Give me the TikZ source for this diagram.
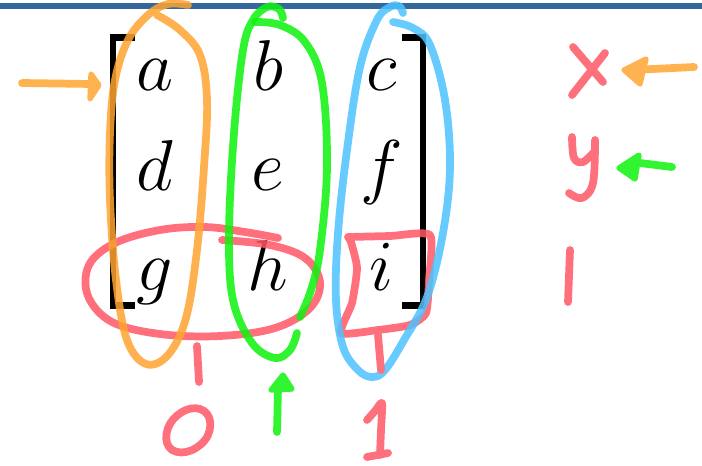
\documentclass[tikz,border=0pt]{standalone}
\usepackage{fix-cm}
\definecolor{obsorange}{RGB}{255,178,80}
\definecolor{obsred}{RGB}{255,112,125}
\definecolor{obsgreen}{RGB}{50,245,50}
\definecolor{obsblue}{RGB}{104,204,255}
\definecolor{baseorange}{RGB}{255,164,49}
\definecolor{basered}{RGB}{255,87,102}
\definecolor{basegreen}{RGB}{14,243,14}
\definecolor{baseblue}{RGB}{77,195,255}
\definecolor{barblue}{RGB}{52,104,156}
\tikzset{
  pen/.style={line width=5.8pt, line cap=round, line join=round},
  loop/.style={pen, draw opacity=0.85},
  head/.style={line width=4pt, line join=round, line cap=round},
  letter/.style={anchor=base, inner sep=0pt, font=\fontsize{54}{62}\selectfont},
  bracket/.style={line width=4.6pt, line cap=butt, line join=miter}
}
\begin{document}
\begin{tikzpicture}[x=0.75pt,y=-0.75pt]
\useasboundingbox (0,0) rectangle (702,465);
\fill[white] (0,0) rectangle (702,465);
\fill[barblue] (0,3) rectangle (702,9);
% matrix
\node[letter] (a) at (155,90) {$a$};
\node[letter] (b) at (268,90) {$b$};
\node[letter] (c) at (382,90) {$c$};
\node[letter] (d) at (155,190) {$d$};
\node[letter] (e) at (268,190) {$e$};
\node[letter] (f) at (382,190) {$f$};
\node[letter] (g) at (155,290) {$g$};
\node[letter] (h) at (268,290) {$h$};
\node[letter] (i) at (382,290) {$i$};
\draw[bracket] (135,37.5) -- (113,37.5) -- (113,305.5) -- (135,305.5);
\draw[bracket] (402,37.5) -- (423,37.5) -- (423,305.5) -- (402,305.5);
% red ellipse and box
\draw[loop, basered] plot[smooth, tension=0.6] coordinates {(278,238) (245,232) (205,227) (160,230) (115,243) (89,265) (88,296) (112,322) (160,334) (220,336) (275,328) (310,308) (320,282) (305,258) (270,245) (222,240)};
\draw[loop, basered] plot[smooth, tension=0.35] coordinates {(348,237) (390,236) (430,235) (429,280) (426,313) (410,325) (378,330) (341,333) (352,303) (357,268) (351,242) (348,237)};
% orange loop
\draw[loop, baseorange] plot[smooth, tension=0.6] coordinates {(188,5) (168,4) (148,15) (128,40) (115,80) (110,133) (110,200) (116,280) (127,340) (146,364) (168,355) (186,318) (197,250) (204,167) (207,100) (200,55) (180,30) (157,15)};
% green loop
\draw[loop, basegreen] plot[smooth, tension=0.6] coordinates {(283,18) (279,9) (267,7) (253,20) (243,50) (234,133) (229,233) (233,300) (252,343) (275,358) (290,350) (297,333)};
\draw[loop, basegreen] plot[smooth, tension=0.6] coordinates {(255,22) (280,25) (305,42) (322,83) (327,167) (320,250) (311,290) (300,317)};
% blue loop
\draw[loop, baseblue] plot[smooth, tension=0.6] coordinates {(403,13) (399,6) (390,7) (377,20) (360,67) (347,150) (338,233) (336,300) (343,347) (358,370) (372,377) (385,370) (404,340) (427,297) (443,233) (450,167) (445,100) (430,45) (413,28) (393,22)};
% ticks under matrix
\draw[pen, obsred] (197,346) -- (199,382);
\draw[pen, obsred] (378,335) -- (381,370);
% 0 and 1 below
\draw[pen, obsred] plot[smooth cycle, tension=0.7] coordinates {(200,409) (210,421) (205,440) (186,452) (169,447) (168,428) (182,412)};
\draw[pen, obsred] plot[smooth, tension=0.4] coordinates {(367,420) (375,411) (382,403) (381,430) (380,455)};
\draw[pen, obsred] (367,457) -- (388,453);
% green up arrow
\draw[pen, obsgreen] (277,432) -- (278,388);
\filldraw[head, obsgreen] (283,375) -- (292,389) -- (271,390) -- cycle;
% left orange arrow
\draw[pen, obsorange] (22,83) -- (92,84);
\filldraw[head, obsorange] (99,85) -- (91,74) -- (90,99) -- cycle;
% right side labels
\draw[pen, obsred] (573,47) -- (603,82);
\draw[pen, obsred] (605,53) -- (572,95);
\draw[pen, obsred] plot[smooth, tension=0.6] coordinates {(572,137) (574,158) (583,162) (594,152)};
\draw[pen, obsred] plot[smooth, tension=0.6] coordinates {(595,140) (593,183) (582,198) (569,193)};
\draw[pen, obsred] (570,250) -- (568,302);
% right arrows
\draw[pen, obsorange] (694,67) -- (632,70);
\filldraw[head, obsorange] (624,70) -- (646,59) -- (640,84) -- cycle;
\draw[pen, obsgreen] (672,167) -- (640,163);
\filldraw[head, obsgreen] (619,168) -- (639,155) -- (635,179) -- cycle;
\end{tikzpicture}
\end{document}
